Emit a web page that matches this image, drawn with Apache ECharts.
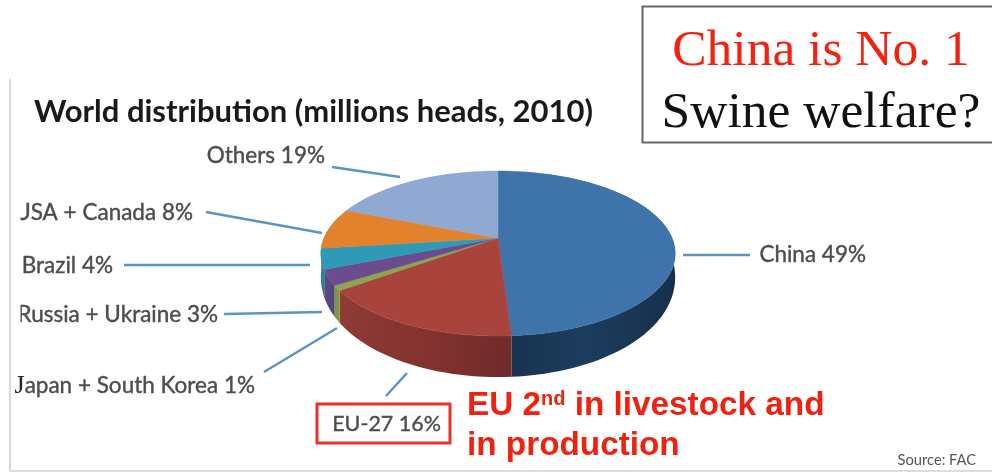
<!DOCTYPE html>
<html>
<head>
<meta charset="utf-8">
<style>
  html, body { margin: 0; padding: 0; background: #fff; }
  #chart { width: 992px; height: 473px; }
</style>
</head>
<body>
<div id="chart"></div>
<script src="https://cdn.jsdelivr.net/npm/echarts@6/dist/echarts.min.js"></script>
<script>
// values, clockwise from 12 o'clock
const regions = ['China', 'EU-27', 'Japan + South Korea', 'Russia + Ukraine', 'Brazil', 'USA + Canada', 'Others'];
const shares = [49, 16, 1, 3, 4, 8, 19];

const faceColors = ['#3e74aa', '#a9443c', '#8ca64e', '#6b4c8e', '#2f9ab6', '#e2822d', '#8fa9d2'];
const wallColors = [
  ['#17324f', '#1d3d5e', '#16304c'],
  ['#8f3b36', '#84322f', '#6f2b2a'],
  ['#7f9645', '#7f9645', '#7f9645'],
  ['#5b4c86', '#574880', '#52447a'],
  ['#27839c', '#27839c', '#27839c'],
  ['#c06f27', '#c06f27', '#c06f27'],
  ['#7a90b4', '#7a90b4', '#7a90b4']
];

// leader lines [x1, y1, x2, y2], label anchors [right edge, middle], label font sizes
const leaders = [
  [683, 255, 750, 255],
  [407, 373, 386, 396],
  [337, 328, 264, 372],
  [322, 312, 224, 314],
  [310, 265, 124, 265],
  [322, 233, 206, 212],
  [400, 177, 332, 167]
];
const labelAnchors = [
  [866, 255],
  [441, 424],
  [255, 386],
  [218, 315],
  [113, 266],
  [193, 213],
  [325, 156]
];
const labelSizes = [22.5, 21.5, 22.5, 22.5, 22.5, 22.5, 22.5];

// pie seen in perspective: apex is not the middle of the rim ellipse
const apexX = 498, apexY = 238;
const radiusX = 174, radiusY = 79.6, tilt = 0.188;

function rimPoint(share) {
  const a = share / 100 * Math.PI * 2;
  const u = Math.sin(a);
  const v = -Math.cos(a);
  const w = 1 - tilt * v;
  // wall is taller at the near side
  const depth = Math.max(0, 20 + 21 * v);
  return {x: apexX + radiusX * u / w, y: apexY + radiusY * v / w, depth: depth};
}

function startOf(index) {
  let sum = 0;
  for (let i = 0; i < index; i++) sum += shares[i];
  return sum;
}

function arcPoints(start, size) {
  const steps = Math.max(2, Math.ceil(size * 2));
  const pts = [];
  for (let i = 0; i <= steps; i++) pts.push(rimPoint(start + size * i / steps));
  return pts;
}

function renderWall(params, api) {
  const i = params.dataIndex;
  const pts = arcPoints(startOf(i), api.value(0));
  const top = pts.map(p => [p.x, p.y]);
  const bottom = pts.map(p => [p.x, p.y + p.depth]).reverse();
  const c = wallColors[i];
  return {
    type: 'polygon',
    shape: {points: top.concat(bottom)},
    style: {
      fill: new echarts.graphic.LinearGradient(0, 0, 1, 0, [
        {offset: 0, color: c[0]},
        {offset: 0.5, color: c[1]},
        {offset: 1, color: c[2]}
      ])
    }
  };
}

function renderFace(params, api) {
  const i = params.dataIndex;
  const pts = arcPoints(startOf(i), api.value(0)).map(p => [p.x, p.y]);
  pts.unshift([apexX, apexY]);
  return {
    type: 'polygon',
    shape: {points: pts},
    style: {fill: faceColors[i], stroke: faceColors[i], lineWidth: 0.5}
  };
}

function renderLabel(params, api) {
  const i = params.dataIndex;
  const l = leaders[i];
  const a = labelAnchors[i];
  const name = regions[i];
  const pct = api.value(0) + '%';
  const isJapan = name.charAt(0) === 'J';
  return {
    type: 'group',
    children: [{
      type: 'line',
      shape: {x1: l[0], y1: l[1], x2: l[2], y2: l[3]},
      style: {stroke: '#5c94c5', lineWidth: 2.5}
    }, {
      type: 'text',
      z2: 5,
      x: a[0],
      y: a[1],
      style: {
        text: isJapan ? '{j|J}{t|' + name.slice(1) + ' ' + pct + '}' : '{t|' + name + ' ' + pct + '}',
        align: 'right',
        verticalAlign: 'middle',
        rich: {
          t: {fontFamily: 'Lato', fontSize: labelSizes[i], fill: '#4d4d4d', stroke: '#4d4d4d', lineWidth: 0.4},
          j: {fontFamily: 'Liberation Serif', fontSize: 26, fill: '#222222'}
        }
      }
    }]
  };
}

const chart = echarts.init(document.getElementById('chart'), null, {renderer: 'canvas'});
const rows = regions.map((name, i) => ({name: name, value: [shares[i]]}));

chart.setOption({
  animation: false,
  backgroundColor: '#ffffff',
  graphic: [
    // frame of the pasted slide
    {type: 'line', shape: {x1: 10, y1: 79, x2: 10, y2: 471}, style: {stroke: '#d9d9d9', lineWidth: 2}},
    {type: 'line', shape: {x1: 10, y1: 471, x2: 992, y2: 471}, style: {stroke: '#dddddd', lineWidth: 2}},
    {type: 'text', x: 34, y: 112, style: {
      text: 'World distribution (millions heads, 2010)',
      fontFamily: 'Lato', fontWeight: 'bold', fontSize: 31, fill: '#1a1a1a', verticalAlign: 'middle'
    }},
    // callout box
    {type: 'rect', shape: {x: 642.5, y: 6.5, width: 360, height: 136}, style: {fill: '#fff', stroke: '#666666', lineWidth: 2}},
    {type: 'text', x: 821, y: 51, style: {
      text: 'China is No. 1', fontFamily: 'Liberation Serif', fontSize: 51.5, fill: '#f5210f',
      align: 'center', verticalAlign: 'middle'
    }},
    {type: 'text', x: 821, y: 113, style: {
      text: 'Swine welfare?', fontFamily: 'Liberation Serif', fontSize: 51.5, fill: '#111111',
      align: 'center', verticalAlign: 'middle'
    }},
    {type: 'rect', shape: {x: 317, y: 404, width: 133, height: 39}, style: {fill: 'none', stroke: '#e8312a', lineWidth: 3}},
    {type: 'text', x: 467, y: 406, style: {
      text: '{a|EU 2}{s|nd}{a| in livestock and}',
      verticalAlign: 'middle',
      rich: {
        a: {fontFamily: 'Liberation Sans', fontWeight: 'bold', fontSize: 33.3, fill: '#f0220f'},
        s: {fontFamily: 'Liberation Sans', fontWeight: 'bold', fontSize: 20, fill: '#f0220f', verticalAlign: 'top'}
      }
    }},
    {type: 'text', x: 467, y: 446, style: {
      text: 'in production', fontFamily: 'Liberation Sans', fontWeight: 'bold', fontSize: 33.3, fill: '#f0220f',
      verticalAlign: 'middle'
    }},
    {type: 'text', x: 976, y: 460, style: {
      text: 'Source: FAC', fontFamily: 'Lato', fontSize: 14.7, fill: '#555555',
      align: 'right', verticalAlign: 'middle'
    }},
    // the source image cuts the first letters of two labels
    {type: 'rect', z: 200, shape: {x: 12, y: 195, width: 8.5, height: 34}, style: {fill: '#ffffff'}},
    {type: 'rect', z: 200, shape: {x: 12, y: 298, width: 8.5, height: 32}, style: {fill: '#ffffff'}}
  ],
  series: [
    {type: 'custom', coordinateSystem: 'none', silent: true, z: 2, data: rows, renderItem: renderWall},
    {type: 'custom', coordinateSystem: 'none', silent: true, z: 3, data: rows, renderItem: renderFace},
    {type: 'custom', coordinateSystem: 'none', silent: true, z: 4, data: rows, renderItem: renderLabel}
  ]
});
</script>
</body>
</html>
